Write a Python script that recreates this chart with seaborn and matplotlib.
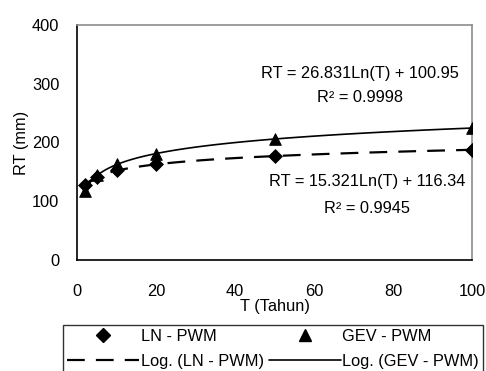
import matplotlib
matplotlib.use("Agg")
import matplotlib.pyplot as plt
import numpy as np
import pandas as pd
import seaborn as sns
from matplotlib.lines import Line2D

# return periods and rainfall values
T = [2, 5, 10, 20, 50, 100]
ln_pwm = [127, 141, 153, 163, 177, 187]
gev_pwm = [118, 145, 163, 181, 206, 224]

eq_ln = "RT = 15.321Ln(T) + 116.34"
r2_ln = "R\u00b2 = 0.9945"
eq_gev = "RT = 26.831Ln(T) + 100.95"
r2_gev = "R\u00b2 = 0.9998"

df = pd.DataFrame({"T": T, "LN": ln_pwm, "GEV": gev_pwm})

sns.set_style("white")
plt.rcParams['font.family'] = ['Liberation Sans', 'DejaVu Sans']
plt.rcParams.update({"text.color": "black", "axes.labelcolor": "black",
                     "xtick.color": "black", "ytick.color": "black"})
fs = 11.8

fig = plt.figure(figsize=(4.86, 3.71), dpi=100)
ax = fig.add_axes([0.159, 0.299, 0.812, 0.634])

dash = (0, (8, 5))

# log trendlines
sns.regplot(data=df, x="T", y="LN", logx=True, ci=None, scatter=False, ax=ax,
            line_kws=dict(color="black", lw=1.6, linestyle=dash))
sns.regplot(data=df, x="T", y="GEV", logx=True, ci=None, scatter=False, ax=ax,
            line_kws=dict(color="black", lw=1.2))

sns.scatterplot(data=df, x="T", y="LN", marker="D", s=50, color="black",
                edgecolor="black", ax=ax, zorder=5)
sns.scatterplot(data=df, x="T", y="GEV", marker="^", s=70, color="black",
                edgecolor="black", ax=ax, zorder=5)

ax.set_xlim(0, 100)
ax.set_ylim(0, 400)
ax.set_xticks(range(0, 101, 20))
ax.set_yticks(range(0, 401, 100))
ax.set_xlabel("T (Tahun)", fontsize=fs, labelpad=0)
ax.set_ylabel("RT (mm)", fontsize=fs, labelpad=2)
ax.tick_params(axis="x", direction="inout", length=6, width=1, labelsize=fs, pad=14)
ax.tick_params(axis="y", direction="out", length=5, width=1, labelsize=fs, pad=8)

for s in ["left", "bottom"]:
    ax.spines[s].set_color("black")
    ax.spines[s].set_linewidth(1.2)
for s in ["top", "right"]:
    ax.spines[s].set_color("#8c8c8c")
    ax.spines[s].set_linewidth(1.2)

ax.text(71.6, 317, eq_gev, ha="center", va="center", fontsize=fs)
ax.text(71.6, 276, r2_gev, ha="center", va="center", fontsize=fs)
ax.text(73.4, 133, eq_ln, ha="center", va="center", fontsize=fs)
ax.text(73.4, 88, r2_ln, ha="center", va="center", fontsize=fs)

handles = [
    Line2D([], [], marker="D", color="black", linestyle="none", markersize=7),
    Line2D([], [], color="black", lw=1.6, linestyle=dash),
    Line2D([], [], marker="^", color="black", linestyle="none", markersize=9),
    Line2D([], [], color="black", lw=1.2),
]
labels = ["LN - PWM", "Log. (LN - PWM)", "GEV - PWM", "Log. (GEV - PWM)"]
leg = fig.legend(handles, labels, ncol=2, loc="upper left",
                 bbox_to_anchor=(0.130, 0.124, 0.864, 0), mode="expand",
                 frameon=True, fancybox=False, fontsize=fs, handlelength=4.4,
                 handletextpad=0.1, labelspacing=0.6, borderpad=0.25,
                 columnspacing=0.8, borderaxespad=0)
leg.get_frame().set_edgecolor("black")
leg.get_frame().set_linewidth(1.0)

fig.savefig("out.png", dpi=100)
